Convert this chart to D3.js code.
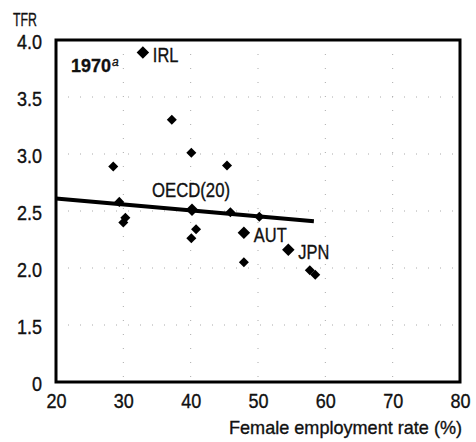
<!DOCTYPE html>
<html>
<head>
<meta charset="utf-8">
<script src="https://cdn.jsdelivr.net/npm/d3@7"></script>
<style>
body { margin: 0; background: #fff; }
text { font-family: "Liberation Sans", Arial, sans-serif; fill: #111; stroke: #111; stroke-width: 0.35px; }
</style>
</head>
<body>
<svg id="chart"></svg>
<script>
'use strict'

// female employment rate (%) and TFR, 1970
var empRate = [32.9, 37.2, 40.1, 28.5, 45.4, 29.4, 30.0, 30.3, 40.8, 40.1, 45.9, 50.2, 47.9, 54.5, 47.9, 57.7, 58.5];
var tfr     = [3.89, 3.30, 3.01, 2.89, 2.90, 2.58, 2.40, 2.44, 2.34, 2.26, 2.49, 2.45, 2.31, 2.16, 2.05, 1.98, 1.94];
var pointLabels = ["IRL", "", "", "", "", "", "", "", "", "", "", "", "AUT", "JPN", "", "", ""];

// OECD average
var oecdPoint = [40.2, 2.51];

// fitted line end points
var fitX = [20, 58.3];
var fitY = [2.61, 2.41];

var xTicks = [20, 30, 40, 50, 60, 70, 80];
var yTicks = [1.0, 1.5, 2.0, 2.5, 3.0, 3.5, 4.0];
var yTickLabels = ["0", "1.5", "2.0", "2.5", "3.0", "3.5", "4.0"];

var WIDTH = 476,
	HEIGHT = 442;

var plot = { left: 56, right: 460, top: 40, bottom: 382 };

// squeeze a text to look like a condensed face
function condense(sel, factor) {
	sel.each(function() {
		var w = this.getComputedTextLength();
		d3.select(this)
			.attr("textLength", w * factor)
			.attr("lengthAdjust", "spacingAndGlyphs")
	})
}

var svg = d3.select("#chart")
	.attr("width", WIDTH)
	.attr("height", HEIGHT)

var x = d3.scaleLinear().domain([20, 80]).range([plot.left, plot.right]);
var y = d3.scaleLinear().domain([1.0, 4.0]).range([plot.bottom, plot.top]);

// faint dotted grid (scan remains)
svg.append("g").selectAll("line")
	.data(yTicks.slice(1, -1))
	.enter().append("line")
	.attr("x1", plot.left).attr("x2", plot.right)
	.attr("y1", d => y(d)).attr("y2", d => y(d))
	.style("stroke", "#aaa")
	.style("stroke-width", 1)
	.style("stroke-dasharray", "1,11")

svg.append("g").selectAll("line")
	.data(xTicks.slice(1, -1))
	.enter().append("line")
	.attr("y1", plot.top).attr("y2", plot.bottom)
	.attr("x1", d => x(d)).attr("x2", d => x(d))
	.style("stroke", "#aaa")
	.style("stroke-width", 1)
	.style("stroke-dasharray", "1,13")

// frame
svg.append("rect")
	.attr("x", plot.left)
	.attr("y", plot.top)
	.attr("width", plot.right - plot.left)
	.attr("height", plot.bottom - plot.top)
	.style("fill", "none")
	.style("stroke", "#000")
	.style("stroke-width", 3)

// axes labels
var yAxis = d3.axisLeft(y)
	.tickValues(yTicks)
	.tickSize(0)
	.tickPadding(14)
	.tickFormat((d, i) => yTickLabels[i]);

var yG = svg.append("g")
	.attr("transform", "translate(" + plot.left + ",0)")
	.call(yAxis)
yG.select(".domain").remove()
yG.selectAll("text")
	.style("font-size", "20px")
	.attr("dy", "0.4em")
	.call(condense, 0.9)

var xAxis = d3.axisBottom(x)
	.tickValues(xTicks)
	.tickSize(0)
	.tickPadding(12)
	.tickFormat(d3.format("d"));

var xG = svg.append("g")
	.attr("transform", "translate(0," + plot.bottom + ")")
	.call(xAxis)
xG.select(".domain").remove()
xG.selectAll("text")
	.style("font-size", "20px")
	.call(condense, 0.9)

svg.append("text")
	.attr("x", 13)
	.attr("y", 26)
	.style("font-size", "19px")
	.attr("textLength", 24)
	.attr("lengthAdjust", "spacingAndGlyphs")
	.text("TFR")

svg.append("text")
	.attr("x", 229)
	.attr("y", 434)
	.style("font-size", "19px")
	.attr("textLength", 233)
	.attr("lengthAdjust", "spacingAndGlyphs")
	.text("Female employment rate (%)")

var yearLabel = svg.append("text")
	.attr("x", 71)
	.attr("y", 72)
	.style("font-size", "19px")
	.style("font-weight", "bold")
yearLabel.append("tspan")
	.attr("textLength", 40)
	.attr("lengthAdjust", "spacingAndGlyphs")
	.text("1970")
yearLabel.append("tspan")
	.attr("dx", 1)
	.attr("dy", "-0.5em")
	.style("font-size", "12px")
	.style("font-style", "italic")
	.style("font-weight", "normal")
	.text("a")

// fitted line
var line = d3.line()
	.x(d => x(d[0]))
	.y(d => y(d[1]))

svg.append("path")
	.datum(d3.zip(fitX, fitY))
	.attr("d", line)
	.style("fill", "none")
	.style("stroke", "#000")
	.style("stroke-width", 4)

// points
var diamond = d3.symbol().type(d3.symbolDiamond2);

var pts = d3.range(empRate.length).map(i => ({ x: empRate[i], y: tfr[i], label: pointLabels[i] }));

svg.append("g").selectAll("path")
	.data(pts)
	.enter().append("path")
	.attr("transform", d => "translate(" + x(d.x) + "," + y(d.y) + ")")
	.attr("d", d => diamond.size(d.label ? 100 : 64)())
	.style("fill", "#000")

svg.append("path")
	.attr("transform", "translate(" + x(oecdPoint[0]) + "," + y(oecdPoint[1]) + ")")
	.attr("d", diamond.size(100)())
	.style("fill", "#000")

svg.append("g").selectAll("text")
	.data(pts.filter(d => d.label))
	.enter().append("text")
	.attr("x", d => x(d.x) + 10)
	.attr("y", d => y(d.y) + 9)
	.style("font-size", "20px")
	.text(d => d.label)
	.call(condense, 0.82)

svg.append("text")
	.attr("x", x(oecdPoint[0]) - 40)
	.attr("y", y(oecdPoint[1]) - 13)
	.style("font-size", "20px")
	.attr("textLength", 78)
	.attr("lengthAdjust", "spacingAndGlyphs")
	.text("OECD(20)")
</script>
</body>
</html>
